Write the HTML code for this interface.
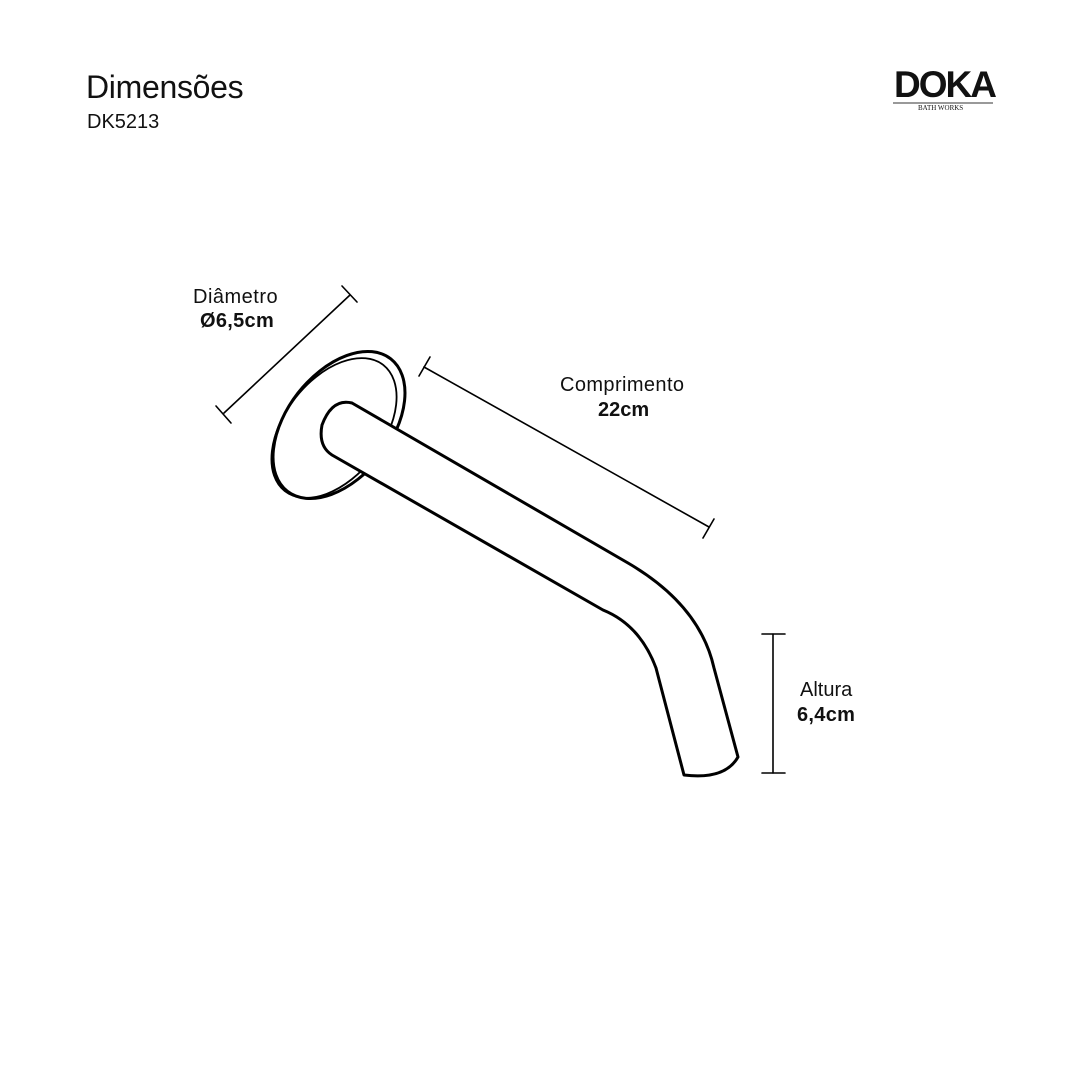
<!DOCTYPE html>
<html><head><meta charset="utf-8"><style>
body{margin:0;background:#fff;}
.w{position:relative;width:1080px;height:1080px;overflow:hidden;font-family:"Liberation Sans",sans-serif;color:#111;}
.t{position:absolute;white-space:nowrap;}
</style></head><body><div class="w">
<div class="t" style="left:86px;top:69px;font-size:32px;letter-spacing:-0.3px;">Dimensões</div>
<div class="t" style="left:87px;top:111px;font-size:20px;">DK5213</div>
<div class="t" style="left:894px;top:64px;font-size:37px;font-weight:bold;letter-spacing:-2px;">DOKA</div>
<div style="position:absolute;left:893px;top:102px;width:100px;height:2px;background:#999"></div>
<div class="t" style="left:918px;top:104px;font-size:7px;font-family:'Liberation Serif',serif;">BATH WORKS</div>
<div class="t" style="left:193px;top:286px;font-size:20px;letter-spacing:0.5px;">Diâmetro</div>
<div class="t" style="left:200px;top:310px;font-size:20px;font-weight:bold;letter-spacing:0.3px;">Ø6,5cm</div>
<div class="t" style="left:560px;top:374px;font-size:20px;letter-spacing:0.4px;">Comprimento</div>
<div class="t" style="left:598px;top:399px;font-size:20px;font-weight:bold;">22cm</div>
<div class="t" style="left:800px;top:679px;font-size:20px;">Altura</div>
<div class="t" style="left:797px;top:704px;font-size:20px;font-weight:bold;letter-spacing:0.3px;">6,4cm</div>
<svg width="1080" height="1080" style="position:absolute;left:0;top:0" fill="none" stroke="#000" stroke-linecap="round">
<g stroke-width="1.6">
<line x1="224" y1="413" x2="350" y2="295"/>
<line x1="216" y1="406" x2="231" y2="423"/>
<line x1="342" y1="286" x2="357" y2="302"/>
<line x1="424" y1="367" x2="709" y2="527"/>
<line x1="419" y1="376" x2="430" y2="357"/>
<line x1="703" y1="538" x2="714" y2="519"/>
<line x1="773" y1="634" x2="773" y2="773"/>
<line x1="762" y1="634" x2="785" y2="634"/>
<line x1="762" y1="773" x2="785" y2="773"/>
</g>
<g stroke-width="3">
<ellipse cx="339" cy="425" rx="52" ry="84" transform="rotate(38 339 425)" fill="#fff"/>
<ellipse cx="334" cy="428" rx="49" ry="80" transform="rotate(38 334 428)" stroke-width="1.8"/>
<path d="M352,403 L628,563 Q700,605 714,668 L738,757 Q725,780 684,775 L656,668 Q640,625 603,610 L332,455 Q318,446 322,425 Q332,398 352,403 Z" fill="#fff" stroke-linejoin="round"/>
</g>
</svg>
</div></body></html>
